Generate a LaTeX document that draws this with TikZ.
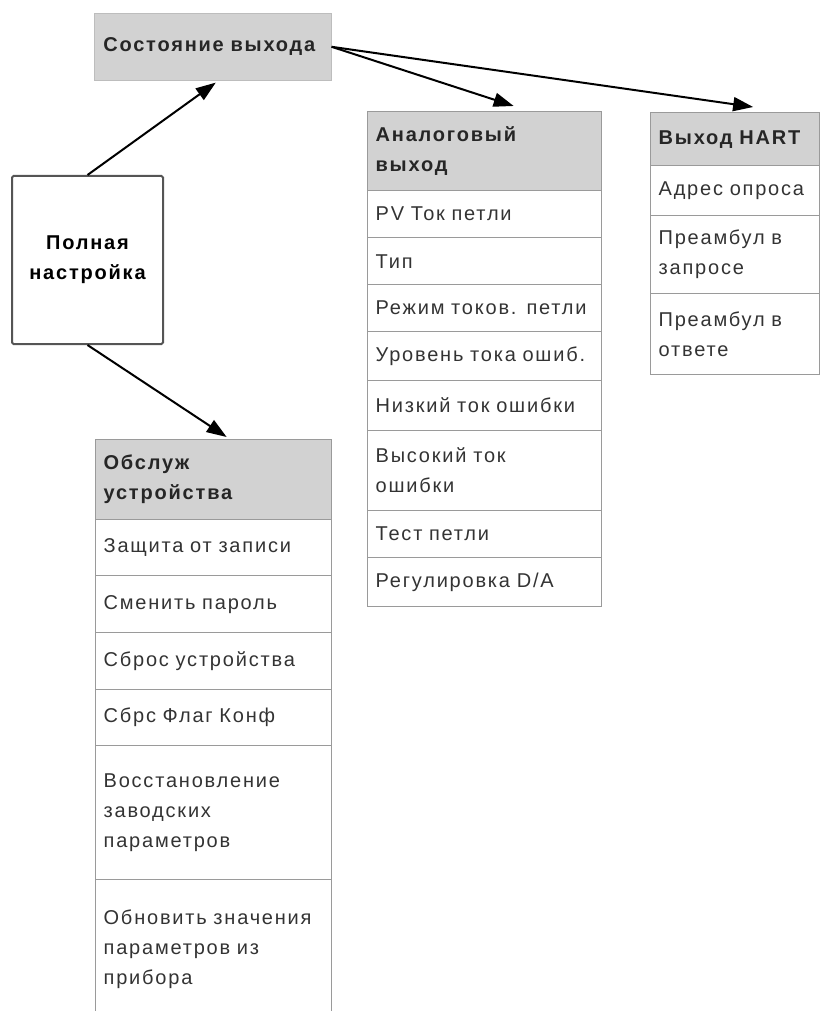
\documentclass[tikz,border=0pt]{standalone}
\usepackage{fontspec}
\setmainfont{Liberation Sans}[LetterSpace=9]
\usetikzlibrary{arrows.meta}
\definecolor{hdrgray}{HTML}{D2D2D2}
\definecolor{linegray}{HTML}{9A9A9A}
\definecolor{txtgray}{HTML}{333333}
\definecolor{boxline}{HTML}{555555}
\begin{document}
\begin{tikzpicture}[x=1pt,y=-1pt,
  cell/.style={rectangle, draw=linegray, line width=1.3pt, anchor=north west,
    inner xsep=8pt, inner ysep=0pt, align=left, text=txtgray,
    font=\fontsize{20}{30}\selectfont},
  hcell/.style={cell, fill=hdrgray, text=black!85,
    font=\fontsize{20}{30}\selectfont\bfseries},
  acell/.style={text width=218pt},
  hartcell/.style={text width=153pt},
  scell/.style={text width=220pt},
  arr/.style={line width=2pt, -{Triangle[length=20pt,width=14pt]}, black}
]
\useasboundingbox (0,0) rectangle (820,1011);

% top state box
\node[rectangle, fill=hdrgray, draw=hdrgray!90!black, line width=0.6pt, anchor=north west,
  minimum width=237pt, minimum height=67pt, inner xsep=9pt, text width=219pt, align=left,
  text=black!85, font=\fontsize{20}{30}\selectfont\bfseries] (state) at (94,13) {Состояние выхода};

% full setup box
\node[rectangle, draw=boxline, line width=2pt, rounded corners=1.5pt, fill=white,
  minimum width=151pt, minimum height=168pt, align=center, text=black,
  font=\fontsize{20}{30}\selectfont\bfseries] (full) at (87.5,260) {Полная\\настройка};

% analog output table
\node[hcell, acell, minimum height=79pt] (ahead) at (367,111) {Аналоговый\\выход};
\node[cell, acell, minimum height=47pt] (a1) at (367,190) {PV Ток петли};
\node[cell, acell, minimum height=47pt] (a2) at (367,237) {Тип};
\node[cell, acell, minimum height=47pt] (a3) at (367,284) {Режим токов. петли};
\node[cell, acell, minimum height=49pt] (a4) at (367,331) {Уровень тока ошиб.};
\node[cell, acell, minimum height=50pt] (a5) at (367,380) {Низкий ток ошибки};
\node[cell, acell, minimum height=80pt] (a6) at (367,430) {Высокий ток\\ошибки};
\node[cell, acell, minimum height=47pt] (a7) at (367,510) {Тест петли};
\node[cell, acell, minimum height=49pt] (a8) at (367,557) {Регулировка D/A};

% HART table
\node[hcell, hartcell, minimum height=53pt] (hhead) at (650,112) {Выход HART};
\node[cell, hartcell, minimum height=50pt] (h1) at (650,165) {Адрес опроса};
\node[cell, hartcell, minimum height=78pt] (h2) at (650,215) {Преамбул в\\запросе};
\node[cell, hartcell, minimum height=81pt] (h3) at (650,293) {Преамбул в\\ответе};

% service table
\node[hcell, scell, minimum height=80pt] (shead) at (95,439) {Обслуж\\устройства};
\node[cell, scell, minimum height=56pt] (s1) at (95,519) {Защита от записи};
\node[cell, scell, minimum height=57pt] (s2) at (95,575) {Сменить пароль};
\node[cell, scell, minimum height=57pt] (s3) at (95,632) {Сброс устройства};
\node[cell, scell, minimum height=56pt] (s4) at (95,689) {Сбрс Флаг Конф};
\node[cell, scell, minimum height=134pt] (s5) at (95,745) {Восстановление\\заводских\\параметров};
\node[cell, scell, minimum height=140pt] (s6) at (95,879) {Обновить значения\\параметров из\\прибора};

% arrows
\draw[arr] (full.north) -- ([xshift=3pt,yshift=-2pt]state.south);
\draw[arr] (full.south) -- ([xshift=13pt,yshift=2pt]shead.north);
\draw[arr] (state.east) -- ([xshift=29pt,yshift=5pt]ahead.north);
\draw[arr] (state.east) -- ([xshift=18pt,yshift=5pt]hhead.north);
\end{tikzpicture}
\end{document}
